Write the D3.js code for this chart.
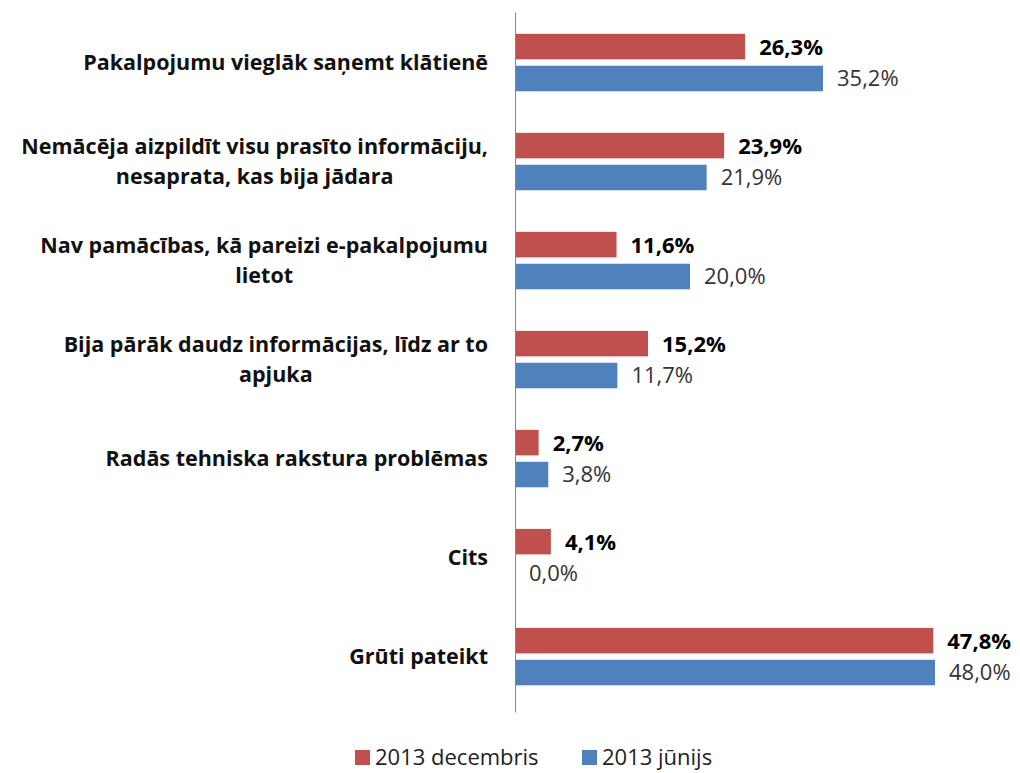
<!DOCTYPE html>
<html>
<head>
<meta charset="utf-8">
<script src="https://cdn.jsdelivr.net/npm/d3@7"></script>
<style>
  body { margin: 0; background: #fff; }
  svg { display: block; font-family: "Open Sans", "Noto Sans", sans-serif; }
</style>
</head>
<body>
<svg id="chart" width="1020" height="773"></svg>
<script>
// data
const categories = [
  ["Pakalpojumu vieglāk saņemt klātienē"],
  ["Nemācēja aizpildīt visu prasīto informāciju,", "nesaprata, kas bija jādara"],
  ["Nav pamācības, kā pareizi e-pakalpojumu", "lietot"],
  ["Bija pārāk daudz informācijas, līdz ar to", "apjuka"],
  ["Radās tehniska rakstura problēmas"],
  ["Cits"],
  ["Grūti pateikt"]
];
const seriesNames = ["2013 decembris", "2013 jūnijs"];
const decValues = [26.3, 23.9, 11.6, 15.2, 2.7, 4.1, 47.8];
const junValues = [35.2, 21.9, 20.0, 11.7, 3.8, 0.0, 48.0];
const colors = ["#C0504D", "#4F81BD"];

const svg = d3.select("#chart");
const margin = { top: 12, left: 515, bottom: 61 };
const plotH = 773 - margin.top - margin.bottom;

const keys = categories.map((c, i) => i);
const rows = keys.map(i => ({ i, values: [decValues[i], junValues[i]] }));

const y0 = d3.scaleBand()
  .domain(keys)
  .range([margin.top, margin.top + plotH])
  .paddingInner(0.42)
  .paddingOuter(0.245)
  .align(0.45);

const y1 = d3.scaleBand()
  .domain([0, 1])
  .range([0, y0.bandwidth()])
  .paddingInner(0.2);

const x = d3.scaleLinear()
  .domain([0, 48])
  .range([margin.left, 935]);

const fmt = v => d3.format(".1f")(v).replace(".", ",") + "%";

// bars
const groups = svg.append("g").selectAll("g")
  .data(rows)
  .enter()
  .append("g")
  .attr("transform", d => `translate(0,${y0(d.i)})`);

groups.selectAll("rect")
  .data(d => d.values.map((v, s) => ({ v, s })))
  .enter()
  .append("rect")
  .attr("x", x(0))
  .attr("y", d => y1(d.s))
  .attr("width", d => x(d.v) - x(0))
  .attr("height", y1.bandwidth())
  .attr("fill", d => colors[d.s]);

groups.selectAll("text")
  .data(d => d.values.map((v, s) => ({ v, s })))
  .enter()
  .append("text")
  .attr("x", d => x(d.v) + 14)
  .attr("y", d => y1(d.s) + y1.bandwidth() / 2)
  .attr("dy", "0.36em")
  .attr("font-size", 22)
  .attr("font-weight", d => d.s === 0 ? "bold" : "normal")
  .attr("fill", d => d.s === 0 ? "#000" : "#333")
  .text(d => fmt(d.v));

// axis
const yAxis = svg.append("g")
  .attr("transform", `translate(${margin.left},0)`)
  .call(d3.axisLeft(y0).tickSize(0).tickSizeOuter(0).tickFormat(""));
yAxis.select(".domain").attr("stroke", "#868686");

// category labels
const labelRight = 488;
const lineH = 30;
const labels = svg.append("g").selectAll("text")
  .data(rows)
  .enter()
  .append("text")
  .attr("font-size", 21.5)
  .attr("font-weight", "bold")
  .attr("fill", "#111")
  .attr("text-anchor", "middle");

labels.each(function(d) {
  const t = d3.select(this);
  const lines = categories[d.i];
  const cy = y0(d.i) + y0.bandwidth() / 2;
  const spans = lines.map(l => t.append("tspan").text(l));
  const widths = spans.map(s => s.node().getComputedTextLength());
  const cx = labelRight - d3.max(widths) / 2;
  spans.forEach((s, k) => {
    s.attr("x", cx)
      .attr("y", cy + (k - (lines.length - 1) / 2) * lineH)
      .attr("dy", "0.36em");
  });
});

// legend
const legend = svg.append("g").attr("transform", "translate(0,757)");
const legendX = [355, 582];
seriesNames.forEach((name, s) => {
  legend.append("rect")
    .attr("x", legendX[s])
    .attr("y", -7)
    .attr("width", 15)
    .attr("height", 15)
    .attr("fill", colors[s]);
  legend.append("text")
    .attr("x", legendX[s] + 20)
    .attr("y", 0)
    .attr("dy", "0.36em")
    .attr("font-size", 22)
    .attr("fill", "#222")
    .text(name);
});
</script>
</body>
</html>
